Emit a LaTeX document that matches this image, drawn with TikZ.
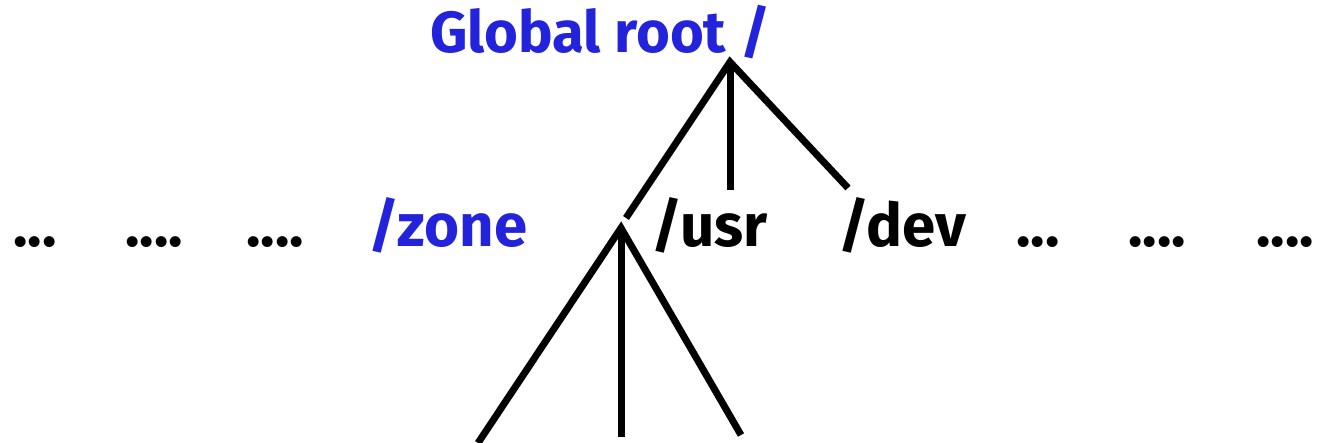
\documentclass[tikz,border=0pt]{standalone}
\usepackage{fontspec}
\setmainfont{Fira Sans}
\begin{document}
\definecolor{rootblue}{RGB}{35,35,220}
\begin{tikzpicture}[x=1pt,y=-1pt,
  lbl/.style={inner sep=0pt,anchor=base west,font=\bfseries\fontsize{60}{60}\selectfont},
  blue lbl/.style={lbl,text=rootblue},
  branch/.style={line width=7pt,line cap=butt}]
  \useasboundingbox (0,0) rectangle (1322,443);
  % labels
  \node[blue lbl,font=\bfseries\fontsize{58}{58}\selectfont] (root) at (430,53) {Global root /};
  \node[lbl] (d1) at (13,247) {...};
  \node[lbl] (d2) at (125,247) {....};
  \node[lbl] (d3) at (246,247) {....};
  \node[blue lbl] (zone) at (368,247) {/zone};
  \node[lbl] (usr) at (651,247) {/usr};
  \node[lbl] (dev) at (838,247) {/dev};
  \node[lbl] (d4) at (1016,247) {...};
  \node[lbl] (d5) at (1128,247) {....};
  \node[lbl] (d6) at (1256,247) {....};
  % tree points
  \coordinate (top) at (730,62);
  \coordinate (topL) at (626,218);
  \coordinate (topM) at (730,190);
  \coordinate (topR) at (848,188);
  \coordinate (sub) at (621,228);
  \coordinate (subL) at (478,443);
  \coordinate (subM) at (621,437);
  \coordinate (subR) at (741,435);
  % branches
  \draw[branch] (topL) -- (top) -- (topR);
  \draw[branch] (top) -- (topM);
  \draw[branch] (subL) -- (sub) -- (subR);
  \draw[branch] (sub) -- (subM);
\end{tikzpicture}
\end{document}
